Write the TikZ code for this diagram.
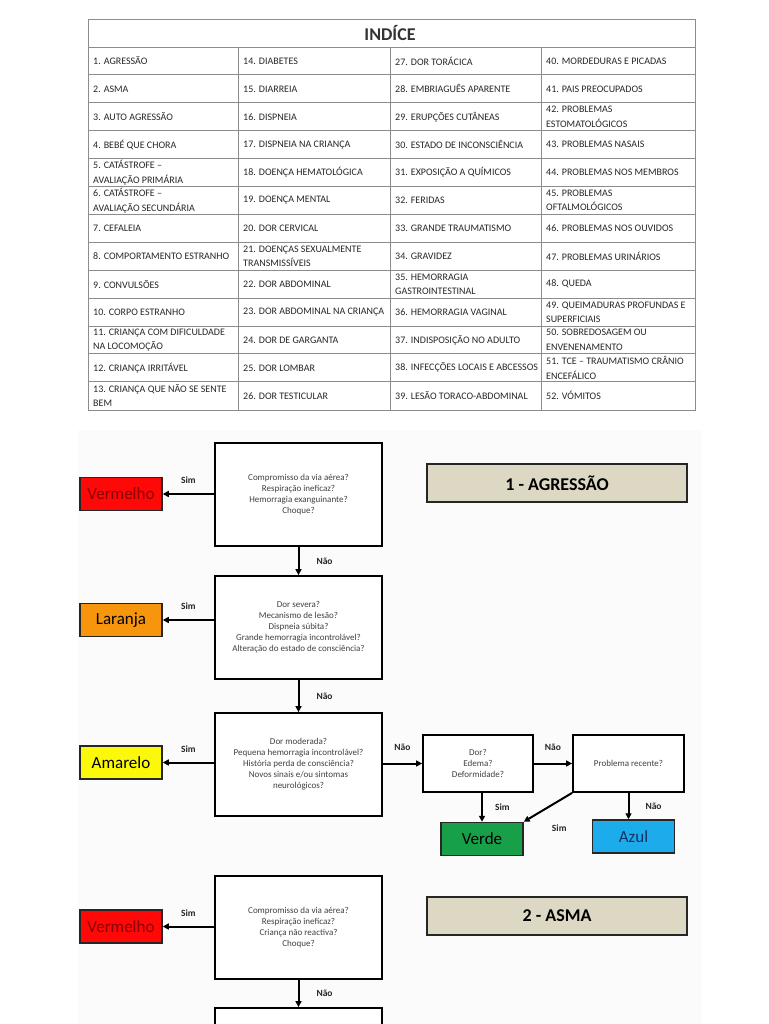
\documentclass[tikz,border=0pt]{standalone}
\usepackage{fontspec}
\setmainfont{Carlito}
\usetikzlibrary{positioning,arrows.meta,calc}

\definecolor{cvermelho}{RGB}{255,8,8}
\definecolor{tvermelho}{RGB}{140,0,0}
\definecolor{claranja}{RGB}{247,150,12}
\definecolor{camarelo}{RGB}{252,248,10}
\definecolor{cverde}{RGB}{24,160,72}
\definecolor{cazul}{RGB}{28,172,236}
\definecolor{tazul}{RGB}{20,50,100}
\definecolor{cbege}{RGB}{221,216,196}
\definecolor{linha}{RGB}{140,140,140}
\definecolor{fundo}{RGB}{251,251,251}

\begin{document}
\begin{tikzpicture}[
    x=1pt,
    y=-1pt,
    celula/.style={
        anchor=west,
        align=left,
        inner sep=0pt,
        font=\fontsize{10}{14.5}\selectfont,
        text=black!85
    },
    grelha/.style={draw=linha, line width=0.9pt},
    pergunta/.style={
        draw,
        line width=1.8pt,
        fill=white,
        minimum width=167pt,
        minimum height=103pt,
        align=center,
        font=\fontsize{9}{11}\selectfont,
        text=black!75
    },
    peq/.style={pergunta, minimum width=110pt, minimum height=57pt},
    cor/.style={
        draw=black!85,
        line width=1.5pt,
        minimum width=82pt,
        minimum height=33pt,
        inner sep=0pt,
        font=\fontsize{17}{20}\selectfont
    },
    titulo/.style={
        draw=black!85,
        line width=1.5pt,
        fill=cbege,
        minimum width=260pt,
        minimum height=38pt,
        font=\bfseries\fontsize{18}{20}\selectfont
    },
    seta/.style={-{Triangle[length=6pt, width=6pt]}, line width=2pt},
    rot/.style={font=\bfseries\fontsize{9.5}{11}\selectfont, text=black!85, inner sep=0pt}
]
\clip (0,0) rectangle (768,1024);
\fill[fundo] (78,430) rectangle (702,1024);

% ============================================================
% ÍNDICE
% ============================================================
\draw[grelha] (88,19) rectangle (695,410);
\draw[grelha] (88,47) -- (695,47);
\foreach \r in {1,...,12}
    \draw[grelha] (88, {47+27.9*\r}) -- (695, {47+27.9*\r});
\foreach \c in {238,390,541}
    \draw[grelha] (\c,47) -- (\c,410);
\node[font=\bfseries\fontsize{18}{20}\selectfont, text=black!80] (indice) at (390,33) {INDÍCE};

\foreach \txt [count=\r] in {1. AGRESSÃO, 2. ASMA, 3. AUTO AGRESSÃO, 4. BEBÉ QUE CHORA,
    {5. CATÁSTROFE –\\AVALIAÇÃO PRIMÁRIA}, {6. CATÁSTROFE –\\AVALIAÇÃO SECUNDÁRIA},
    7. CEFALEIA, 8. COMPORTAMENTO ESTRANHO, 9. CONVULSÕES, 10. CORPO ESTRANHO,
    {11. CRIANÇA COM DIFICULDADE\\NA LOCOMOÇÃO}, 12. CRIANÇA IRRITÁVEL,
    {13. CRIANÇA QUE NÃO SE SENTE\\BEM}}
    \node[celula] (a\r) at (93, {47+27.9*(\r-0.5)}) {\txt};

\foreach \txt [count=\r] in {14. DIABETES, 15. DIARREIA, 16. DISPNEIA, 17. DISPNEIA NA CRIANÇA,
    18. DOENÇA HEMATOLÓGICA, 19. DOENÇA MENTAL, 20. DOR CERVICAL,
    {21. DOENÇAS SEXUALMENTE\\TRANSMISSÍVEIS}, 22. DOR ABDOMINAL,
    23. DOR ABDOMINAL NA CRIANÇA, 24. DOR DE GARGANTA, 25. DOR LOMBAR, 26. DOR TESTICULAR}
    \node[celula] (b\r) at (243, {47+27.9*(\r-0.5)}) {\txt};

\foreach \txt [count=\r] in {27. DOR TORÁCICA, 28. EMBRIAGUÊS APARENTE, 29. ERUPÇÕES CUTÂNEAS,
    30. ESTADO DE INCONSCIÊNCIA, 31. EXPOSIÇÃO A QUÍMICOS, 32. FERIDAS,
    33. GRANDE TRAUMATISMO, 34. GRAVIDEZ, {35. HEMORRAGIA\\GASTROINTESTINAL},
    36. HEMORRAGIA VAGINAL, 37. INDISPOSIÇÃO NO ADULTO,
    38. INFECÇÕES LOCAIS E ABCESSOS, 39. LESÃO TORACO-ABDOMINAL}
    \node[celula] (c\r) at (395, {47+27.9*(\r-0.5)}) {\txt};

\foreach \txt [count=\r] in {40. MORDEDURAS E PICADAS, 41. PAIS PREOCUPADOS,
    {42. PROBLEMAS\\ESTOMATOLÓGICOS}, 43. PROBLEMAS NASAIS, 44. PROBLEMAS NOS MEMBROS,
    {45. PROBLEMAS\\OFTALMOLÓGICOS}, 46. PROBLEMAS NOS OUVIDOS, 47. PROBLEMAS URINÁRIOS,
    48. QUEDA, {49. QUEIMADURAS PROFUNDAS E\\SUPERFICIAIS}, {50. SOBREDOSAGEM OU\\ENVENENAMENTO},
    {51. TCE – TRAUMATISMO CRÂNIO\\ENCEFÁLICO}, 52. VÓMITOS}
    \node[celula] (d\r) at (546, {47+27.9*(\r-0.5)}) {\txt};

% ============================================================
% 1 - AGRESSÃO
% ============================================================
\node[titulo] (t1) at (557,483) {1 - AGRESSÃO};

\node[pergunta] (q1) at (298.5,494.5)
    {Compromisso da via aérea?\\Respiração ineficaz?\\Hemorragia exanguinante?\\Choque?};
\node[pergunta] (q2) at (298.5,627.5)
    {Dor severa?\\Mecanismo de lesão?\\Dispneia súbita?\\Grande hemorragia incontrolável?\\Alteração do estado de consciência?};
\node[pergunta] (q3) at (298.5,764.5)
    {Dor moderada?\\Pequena hemorragia incontrolável?\\História perda de consciência?\\Novos sinais e/ou sintomas\\neurológicos?};
\node[peq]      (q4) at (478,763.5) {Dor?\\Edema?\\Deformidade?};
\node[peq]      (q5) at (628.5,763.5) [minimum width=111pt] {Problema recente?};

\node[cor, fill=cvermelho, text=tvermelho] (v1)  at (121,494) {Vermelho};
\node[cor, fill=claranja]                  (lar) at (121,620) {Laranja};
\node[cor, fill=camarelo]                  (ama) at (121,762.5) {Amarelo};
\node[cor, fill=cverde]                    (vd)  at (482,839) {Verde};
\node[cor, fill=cazul, text=tazul]         (az)  at (633.5,836.5) {Azul};

\draw[seta] (q1.west |- v1) -- node[rot, above=9pt] {Sim} (v1);
\draw[seta] (q2.west |- lar) -- node[rot, above=9pt] {Sim} (lar);
\draw[seta] (q3.west |- ama) -- node[rot, above=9pt] {Sim} (ama);

\draw[seta] (q1) -- node[rot, right=17pt] {Não} (q2);
\draw[seta] (q2) -- node[rot, right=17pt] {Não} (q3);

\draw[seta] (q3.east |- q4) -- node[rot, above=12pt] {Não} (q4);
\draw[seta] (q4) -- node[rot, above=12pt] {Não} (q5);
\draw[seta] (q4.south -| vd) -- node[rot, right=12pt] {Sim} (vd);
\draw[seta] (q5.south west) -- node[rot, below right=16pt and 3pt] {Sim} (vd.north east);
\draw[seta] (q5) -- node[rot, right=16pt] {Não} (q5.south |- az.north);

% ============================================================
% 2 - ASMA
% ============================================================
\node[titulo] (t2) at (557,916) {2 - ASMA};

\node[pergunta] (q6) at (298.5,927.5)
    {Compromisso da via aérea?\\Respiração ineficaz?\\Criança não reactiva?\\Choque?};
\node[pergunta] (q7) at (298.5,1059.5) {};
\node[cor, fill=cvermelho, text=tvermelho] (v2) at (121,926.5) {Vermelho};

\draw[seta] (q6.west |- v2) -- node[rot, above=9pt] {Sim} (v2);
\draw[seta] (q6) -- node[rot, right=17pt] {Não} (q7);

\end{tikzpicture}
\end{document}
